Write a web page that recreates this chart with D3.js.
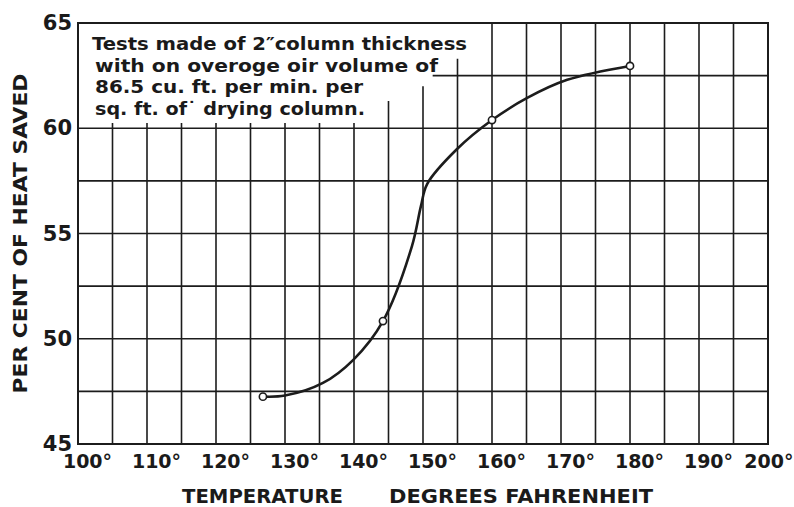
<!DOCTYPE html>
<html>
<head>
<meta charset="utf-8">
<script src="https://cdn.jsdelivr.net/npm/d3@7"></script>
<style>
  body { margin: 0; background: #fff; }
  text { font-family: "DejaVu Sans", "Liberation Sans", sans-serif; font-weight: bold; fill: #1a1a1a; }
</style>
</head>
<body>
<div id="chart"></div>
<script>
// measured points (circles)
const pointTemp = [126.8, 144.2, 160, 180];
const pointHeat = [47.25, 50.84, 60.39, 62.96];

// hand drawn curve
const curveTemp = [126.8, 130.0, 135.5, 139.9, 144.2, 148.4, 149.7, 150.6, 154.9, 160.0, 165.1, 170.9, 180.0];
const curveHeat = [47.25, 47.3, 47.9, 49.0, 50.84, 54.4, 56.3, 57.35, 59.0, 60.39, 61.44, 62.3, 62.96];

const xTicks = [100, 110, 120, 130, 140, 150, 160, 170, 180, 190, 200];
const yTicks = [45, 50, 55, 60, 65];
const xGrid = [105, 110, 115, 120, 125, 130, 135, 140, 145, 150, 155, 160, 165, 170, 175, 180, 185, 190, 195];
const yGrid = [47.5, 50, 52.5, 55, 57.5, 60, 62.5];

// blank area behind the note (temp, heat)
const noteArea = [[100, 65], [156, 65], [156, 63.3], [154.4, 63.3], [154.4, 62.6], [151.4, 62.6],
  [151.4, 62.0], [149, 62.0], [149, 61.3], [144, 61.3], [144, 60.25], [100, 60.25]];

const noteLines = [
  "Tests made of 2\u2033column thickness",
  "with on overoge oir volume of",
  "86.5 cu. ft. per min. per",
  "sq. ft. of\u02d9 drying column."
];

const xTitle = ["TEMPERATURE", "DEGREES FAHRENHEIT"];
const yTitle = "PER CENT OF HEAT SAVED";

const W = 794, H = 507;
const MARGIN = { TOP: 23, BOTTOM: 63, LEFT: 78, RIGHT: 26 };

const x = d3.scaleLinear().domain([100, 200]).range([MARGIN.LEFT, W - MARGIN.RIGHT]);
const y = d3.scaleLinear().domain([45, 65]).range([H - MARGIN.BOTTOM, MARGIN.TOP]);

const svg = d3.select("#chart").append("svg")
  .attr("width", W)
  .attr("height", H);

const ink = "#1c1c1c";

// GRID
svg.append("g")
  .selectAll("line")
  .data(xGrid)
  .join("line")
  .attr("x1", d => x(d)).attr("x2", d => x(d))
  .attr("y1", y(45)).attr("y2", y(65))
  .attr("stroke", ink).attr("stroke-width", 1.6);

svg.append("g")
  .selectAll("line")
  .data(yGrid)
  .join("line")
  .attr("x1", x(100)).attr("x2", x(200))
  .attr("y1", d => y(d)).attr("y2", d => y(d))
  .attr("stroke", ink).attr("stroke-width", 1.6);

// note area is left clear
svg.append("path")
  .attr("d", d3.line().x(d => x(d[0])).y(d => y(d[1]))(noteArea) + "Z")
  .attr("fill", "#fff");

// FRAME
svg.append("rect")
  .attr("x", x(100)).attr("y", y(65))
  .attr("width", x(200) - x(100)).attr("height", y(45) - y(65))
  .attr("fill", "none").attr("stroke", ink).attr("stroke-width", 2);

// AXES LABELS
const xAxis = svg.append("g")
  .attr("transform", `translate(0, ${y(45)})`)
  .call(d3.axisBottom(x).tickValues(xTicks).tickSize(0).tickPadding(11).tickFormat(d => d + "\u00b0"));
xAxis.select(".domain").remove();
xAxis.selectAll("text")
  .attr("dx", d => d === 200 ? 0 : 9)
  .attr("text-anchor", d => d === 200 ? "end" : "middle")
  .attr("transform", d => d === 200 ? `translate(${W - 1 - x(200)}, 0)` : null)
  .attr("font-size", 19)
  .attr("fill", ink);

const yAxis = svg.append("g")
  .attr("transform", `translate(${x(100)}, 0)`)
  .call(d3.axisLeft(y).tickValues(yTicks).tickSize(0).tickPadding(6));
yAxis.select(".domain").remove();
yAxis.selectAll("text")
  .attr("font-size", 21)
  .attr("fill", ink);

// TITLES
svg.append("text")
  .attr("x", 182).attr("y", 503)
  .attr("font-size", 19)
  .attr("textLength", 161).attr("lengthAdjust", "spacingAndGlyphs")
  .text(xTitle[0]);
svg.append("text")
  .attr("x", 389).attr("y", 503)
  .attr("font-size", 19)
  .attr("textLength", 264).attr("lengthAdjust", "spacingAndGlyphs")
  .text(xTitle[1]);

svg.append("text")
  .attr("transform", `translate(27, ${(y(45) + y(65)) / 2}) rotate(-90)`)
  .attr("text-anchor", "middle")
  .attr("font-size", 19)
  .attr("textLength", 320).attr("lengthAdjust", "spacingAndGlyphs")
  .text(yTitle);

// NOTE
const noteWidths = [375, 343, 268, 270];
svg.append("g")
  .selectAll("text")
  .data(noteLines)
  .join("text")
  .attr("x", (d, i) => i === 0 ? 92 : 95)
  .attr("y", (d, i) => 50 + i * 21.5)
  .attr("font-size", 18)
  .attr("textLength", (d, i) => noteWidths[i])
  .attr("lengthAdjust", "spacingAndGlyphs")
  .text(d => d);

// CURVE
const curveData = curveTemp.map((t, i) => [t, curveHeat[i]]);
svg.append("path")
  .datum(curveData)
  .attr("d", d3.line().x(d => x(d[0])).y(d => y(d[1])).curve(d3.curveCatmullRom.alpha(0.5)))
  .attr("fill", "none")
  .attr("stroke", ink)
  .attr("stroke-width", 2.6)
  .attr("stroke-linecap", "round");

svg.append("g")
  .selectAll("circle")
  .data(pointTemp.map((t, i) => [t, pointHeat[i]]))
  .join("circle")
  .attr("cx", d => x(d[0]))
  .attr("cy", d => y(d[1]))
  .attr("r", 3.6)
  .attr("fill", "#fff")
  .attr("stroke", ink)
  .attr("stroke-width", 1.6);
</script>
</body>
</html>
